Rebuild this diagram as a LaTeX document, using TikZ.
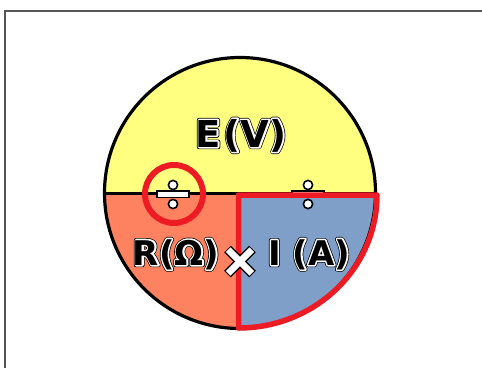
\documentclass[tikz,border=0pt]{standalone}
\usepackage{fontspec}
\setmainfont{DejaVu Sans}
\usetikzlibrary{calc}
\definecolor{ylw}{RGB}{255,255,128}
\definecolor{slm}{RGB}{255,130,96}
\definecolor{blu}{RGB}{127,158,200}
\definecolor{rd}{RGB}{237,28,36}
\definecolor{frm}{RGB}{85,85,85}
\tikzset{
  lbltxt/.style={font=\bfseries\fontsize{#1pt}{#1pt}\selectfont, inner sep=0pt, anchor=base},
  sym/.style={fill=white, draw=black, line width=1.6},
}
\newcommand\halo[1]{%
  \rlap{\special{pdf:literal direct 0 0 0 RG 2 Tr 4.4 w 1 j}#1\special{pdf:literal direct 0 Tr}}%
  \rlap{\special{pdf:literal direct 1 1 1 RG 2 Tr 3.0 w 1 j}#1\special{pdf:literal direct 0 Tr}}%
  #1}
\newcommand\divsign[3]{% name, x, y
  \draw[sym] (#2-16,#3-3) rectangle (#2+16,#3+3.5);
  \draw[sym] (#2,#3-9) circle[radius=4.6];
  \draw[sym] (#2,#3+10) circle[radius=4.6];
  \coordinate (#1) at (#2,#3);
}
\begin{document}
\begin{tikzpicture}[x=1pt,y=-1pt]
\useasboundingbox (0,0) rectangle (482,367);
\draw[frm, line width=2] (5,11) rectangle (495,385);
% fills
\begin{scope}
  \clip (240,193) circle[radius=135.5];
  \fill[ylw] (100,50) rectangle (380,193);
  \fill[slm] (100,193) rectangle (238.5,335);
  \fill[blu] (238.5,193) rectangle (380,335);
\end{scope}
\node (disk) [circle, draw, line width=3.2, minimum size=271pt, inner sep=0pt] at (240,193) {};
\draw[line width=3] (disk.west) -- (disk.east);
% right division sign (under the red outline)
\divsign{divR}{308}{194}
% red quarter outline
\coordinate (qc) at (238.5,195);
\coordinate (qr) at (377,195);
\draw[rd, line width=5.5, line join=round] (qc) -- (qr) arc[start angle=0, end angle=90, x radius=138.5, y radius=133] -- cycle;
% left division sign with red ring
\divsign{divL}{173}{194}
\node (ring) [circle, draw=rd, line width=6, minimum size=58pt, inner sep=0pt] at (174,194) {};
% multiplication sign
\coordinate (mul) at (240,261.5);
\draw[line width=9.5] ($(mul)+(-12.5,-12.5)$) -- ($(mul)+(12.5,12.5)$);
\draw[line width=9.5] ($(mul)+(-12.5,12.5)$) -- ($(mul)+(12.5,-12.5)$);
\draw[white, line width=6.5] ($(mul)+(-11.8,-11.8)$) -- ($(mul)+(11.8,11.8)$);
\draw[white, line width=6.5] ($(mul)+(-11.8,11.8)$) -- ($(mul)+(11.8,-11.8)$);
% labels
\node[lbltxt=37] (lE) at (241,147) {\halo{E\kern3pt(V)}};
\node[lbltxt=34] (lR) at (176,265) {\halo{R(Ω)}};
\node[lbltxt=34] (lI) at (309,265) {\halo{I (A)}};
\end{tikzpicture}
\end{document}
